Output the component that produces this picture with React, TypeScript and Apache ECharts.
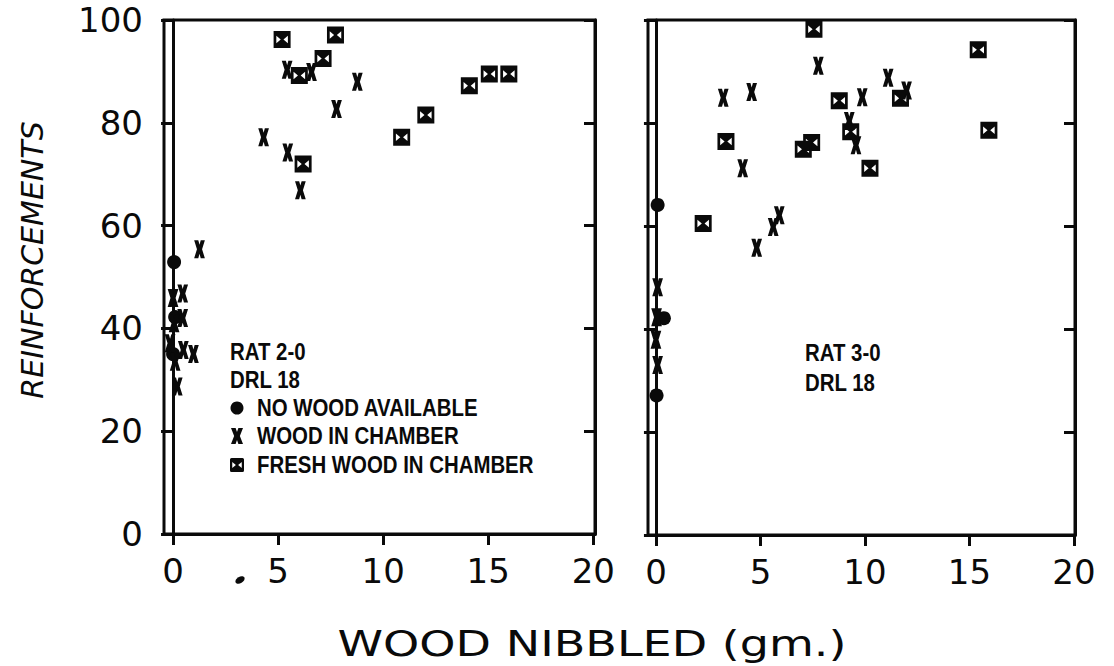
import React, { useEffect, useRef } from "react";
import * as echarts from "echarts";

// ---------- data (grams nibbled, reinforcements) ----------
const xTicks = [0, 5, 10, 15, 20];

const rat2NoWoodX = [0.05, 0.1, 0.0];
const rat2NoWoodY = [52.9, 42.2, 35.0];

const rat2WoodX = [5.43, 6.59, 8.77, 7.78, 4.31, 5.46, 6.06, 1.26, 0.0, 0.46, 0.46, 0.05, -0.14, 0.49, 0.97, 0.1, 0.2];
const rat2WoodY = [90.3, 89.9, 88.0, 82.7, 77.2, 74.2, 66.9, 55.4, 45.9, 46.8, 42.0, 41.0, 37.1, 35.8, 35.0, 33.5, 28.7];

const rat2FreshX = [5.19, 7.73, 7.14, 6.01, 14.1, 15.05, 15.98, 12.03, 10.88, 6.19];
const rat2FreshY = [96.2, 97.1, 92.5, 89.2, 87.2, 89.5, 89.5, 81.5, 77.2, 72.0];

const rat3NoWoodX = [0.08, 0.38, 0.03];
const rat3NoWoodY = [64.1, 42.1, 27.1];

const rat3WoodX = [7.77, 4.58, 3.22, 9.87, 11.11, 11.99, 9.25, 9.57, 4.15, 5.9, 5.61, 4.82, 0.08, 0.03, 0.0, 0.08];
const rat3WoodY = [91.1, 86.0, 84.9, 85.0, 88.8, 86.3, 80.4, 75.7, 71.2, 62.1, 59.8, 55.8, 48.1, 42.3, 37.9, 33.0];

const rat3FreshX = [7.56, 15.42, 8.77, 11.7, 9.32, 3.35, 7.45, 7.05, 15.93, 10.24, 2.26];
const rat3FreshY = [98.2, 94.2, 84.3, 84.8, 78.3, 76.4, 76.2, 74.9, 78.6, 71.2, 60.5];

const NAME_NO = "NO WOOD AVAILABLE";
const NAME_WOOD = "WOOD IN CHAMBER";
const NAME_FRESH = "FRESH WOOD IN CHAMBER";

// ---------- styles ----------
const INK = "#0a0a0a";
// heavy X glyph outline in a 13 x 17 box
const X_SHAPE = [
  [0, 0], [5, 0], [6.5, 4.2], [8, 0], [13, 0], [9.6, 8.5],
  [13, 17], [8, 17], [6.5, 12.8], [5, 17], [0, 17], [3.4, 8.5],
];
const X_PATH = "path://" + X_SHAPE.map((p, i) => (i ? "L" : "M") + p[0] + "," + p[1]).join(" ") + " Z";
const SQ_PATH =
  "path://M0,0 L10,0 L10,10 L0,10 Z M1.6,2.8 L1.6,7.2 L4.2,5 Z M8.4,2.8 L5.8,5 L8.4,7.2 Z";
const TICK_FONT = "DejaVu Sans";
const NOTE_FONT = "'Liberation Sans', Arial, sans-serif";
const NOTE_SCALE = 0.85;

const zip = (xs: number[], ys: number[]) => xs.map((x, i) => [x, ys[i]]);

function makeX(gridIndex: number, min: number, max: number) {
  return {
    type: "value",
    gridIndex,
    min,
    max,
    axisLine: { show: true, onZero: false, lineStyle: { color: INK, width: 3 } },
    axisTick: { show: true, customValues: xTicks, length: 11, lineStyle: { color: INK, width: 3 } },
    axisLabel: {
      customValues: xTicks,
      margin: 20,
      fontFamily: TICK_FONT,
      fontSize: 34,
      color: INK,
    },
    splitLine: { show: false },
  };
}

function makeYLeft(gridIndex: number, showLabels: boolean) {
  return {
    type: "value",
    gridIndex,
    position: "left",
    min: 0,
    max: 100,
    interval: 20,
    axisLine: { show: true, lineStyle: { color: INK, width: 3 } },
    axisTick: { show: true, length: 12, lineStyle: { color: INK, width: 3 } },
    axisLabel: {
      show: showLabels,
      margin: 21,
      fontFamily: TICK_FONT,
      fontSize: 34,
      color: INK,
    },
    splitLine: { show: false },
  };
}

function makeYRight(gridIndex: number) {
  return {
    type: "value",
    gridIndex,
    position: "right",
    min: 0,
    max: 100,
    interval: 20,
    axisLine: { show: true, lineStyle: { color: INK, width: 3 } },
    axisTick: { show: true, inside: true, length: 11, lineStyle: { color: INK, width: 3 } },
    axisLabel: { show: false },
    splitLine: { show: false },
  };
}

function scatter(name: string, data: number[][], axisIdx: number, symbol: string, size: number | number[]) {
  return {
    type: "scatter",
    name,
    xAxisIndex: axisIdx,
    yAxisIndex: axisIdx * 2,
    data,
    symbol,
    symbolSize: size,
    symbolKeepAspect: true,
    itemStyle: { color: INK, opacity: 1 },
    emphasis: { disabled: true },
  };
}

function note(text: string, x: number, y: number) {
  return {
    type: "text",
    x,
    y,
    scaleX: NOTE_SCALE,
    style: {
      text,
      fontFamily: NOTE_FONT,
      fontWeight: "bold",
      fontSize: 24,
      fill: INK,
      align: "left",
      verticalAlign: "middle",
    },
  };
}

function xPolygon(cx: number, cy: number, w: number, h: number) {
  return {
    type: "polygon",
    shape: { points: X_SHAPE.map((p) => [cx - w / 2 + (p[0] / 13) * w, cy - h / 2 + (p[1] / 17) * h]) },
    style: { fill: INK },
  };
}

function freshKey(cx: number, cy: number, s: number) {
  const x0 = cx - s / 2;
  const y0 = cy - s / 2;
  const k = s / 10;
  return [
    { type: "rect", shape: { x: x0, y: y0, width: s, height: s, r: 1.5 }, style: { fill: INK } },
    {
      type: "polygon",
      shape: { points: [[x0 + 1.6 * k, y0 + 2.8 * k], [x0 + 1.6 * k, y0 + 7.2 * k], [x0 + 4.2 * k, y0 + 5 * k]] },
      style: { fill: "#fff" },
    },
    {
      type: "polygon",
      shape: { points: [[x0 + 8.4 * k, y0 + 2.8 * k], [x0 + 5.8 * k, y0 + 5 * k], [x0 + 8.4 * k, y0 + 7.2 * k]] },
      style: { fill: "#fff" },
    },
  ];
}

export default function App() {
  const ref = useRef<HTMLDivElement>(null);

  useEffect(() => {
    if (!ref.current) return;
    const chart = echarts.init(ref.current, undefined, { renderer: "svg" });
    chart.setOption({
      animation: false,
      backgroundColor: "#ffffff",
      grid: [
        { left: 164, top: 20, width: 431, height: 514, show: true, borderColor: INK, borderWidth: 3, backgroundColor: "transparent" },
        { left: 648, top: 20, width: 427, height: 515, show: true, borderColor: INK, borderWidth: 3, backgroundColor: "transparent" },
      ],
      xAxis: [makeX(0, -0.43, 20.08), makeX(1, -0.38, 20.05)],
      yAxis: [makeYLeft(0, true), makeYRight(0), makeYLeft(1, false), makeYRight(1)],
      series: [
        scatter(NAME_NO, zip(rat2NoWoodX, rat2NoWoodY), 0, "circle", 14),
        scatter(NAME_WOOD, zip(rat2WoodX, rat2WoodY), 0, X_PATH, [14, 18]),
        scatter(NAME_FRESH, zip(rat2FreshX, rat2FreshY), 0, SQ_PATH, 17),
        scatter(NAME_NO, zip(rat3NoWoodX, rat3NoWoodY), 1, "circle", 14),
        scatter(NAME_WOOD, zip(rat3WoodX, rat3WoodY), 1, X_PATH, [14, 18]),
        scatter(NAME_FRESH, zip(rat3FreshX, rat3FreshY), 1, SQ_PATH, 17),
      ],
      graphic: [
        note("RAT 2-0", 230, 352),
        note("DRL 18", 230, 380),
        { type: "circle", shape: { cx: 237, cy: 408, r: 6.5 }, style: { fill: INK } },
        note(NAME_NO, 257, 408),
        xPolygon(237, 436, 12, 16),
        note(NAME_WOOD, 257, 436),
        ...freshKey(237, 465, 14),
        note(NAME_FRESH, 257, 465),
        note("RAT 3-0", 805, 353),
        note("DRL 18", 805, 383),
        {
          type: "text",
          x: 32,
          y: 260,
          rotation: Math.PI / 2,
          style: {
            text: "REINFORCEMENTS",
            fontFamily: "DejaVu Sans",
            fontStyle: "italic",
            fontSize: 30,
            fill: INK,
            align: "center",
            verticalAlign: "middle",
          },
        },
        {
          type: "text",
          x: 592,
          y: 644,
          scaleX: 1.28,
          style: {
            text: "WOOD NIBBLED (gm.)",
            fontFamily: "DejaVu Sans",
            fontSize: 36,
            fill: INK,
            align: "center",
            verticalAlign: "middle",
          },
        },
        {
          type: "ellipse",
          x: 240,
          y: 580,
          rotation: 0.5,
          shape: { cx: 0, cy: 0, rx: 5, ry: 3.2 },
          style: { fill: INK },
        },
      ],
    });
    return () => chart.dispose();
  }, []);

  return (
    <div
      ref={ref}
      style={{ position: "fixed", left: 0, top: 0, width: 1114, height: 666, background: "#fff" }}
    />
  );
}
